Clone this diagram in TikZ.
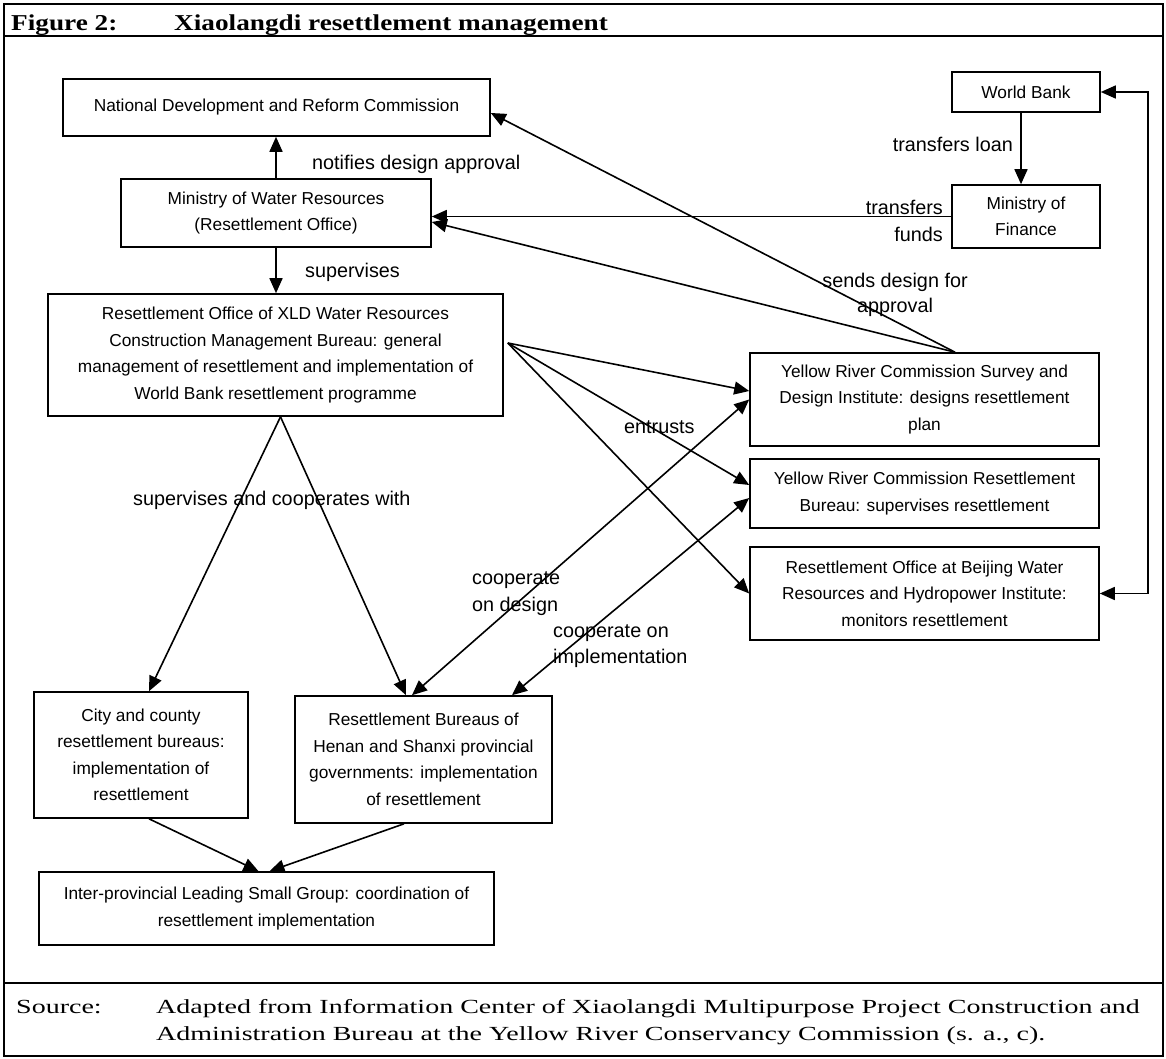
\documentclass[tikz,border=0pt]{standalone}
\usepackage{fontspec}
\setmainfont{Liberation Serif}
\newfontfamily\sansf{Liberation Sans}
\newfontfamily\hdrf[FakeStretch=1.2]{Liberation Serif}
\newfontfamily\srcf[FakeStretch=1.4]{Liberation Serif}
\usetikzlibrary{arrows.meta,calc}
\begin{document}
\begin{tikzpicture}[x=1pt,y=-1pt,
  box/.style={draw,line width=1.6pt,align=center,inner sep=0pt,font=\sansf\fontsize{17.3}{26.5}\selectfont},
  lbl/.style={inner sep=0pt,font=\sansf\fontsize{19.8}{26}\selectfont},
  hdr/.style={inner sep=0pt,anchor=base west,font=\hdrf\bfseries\fontsize{22.7}{24}\selectfont},
  src/.style={inner sep=0pt,anchor=base west,font=\srcf\fontsize{20}{27}\selectfont},
  tipa/.tip={Triangle[length=15pt,width=13pt]},
  arr/.style={line width=1.6pt,-tipa},
  darr/.style={line width=1.6pt,tipa-tipa}]
\fill[white] (0,0) rectangle (1166,1059);
\useasboundingbox (0,0) rectangle (1166,1059);
% frame
\draw[line width=2.2pt] (4,4) rectangle (1163,1056);
\draw[line width=2.4pt] (4,36) -- (1163,36);
\draw[line width=2.4pt] (4,983) -- (1163,983);
\node[hdr] (fig) at (11,31) {Figure 2:};
\node[hdr] (title) at (174,31) {Xiaolangdi resettlement management};
\node[src] (srcl) at (16,1013) {Source:};
\node[src] (srca) at (156,1013) {Adapted from Information Center of Xiaolangdi Multipurpose Project Construction and};
\node[src] (srcb) at (156,1040) {Administration Bureau at the Yellow River Conservancy Commission (s. a., c).};
% boxes
\node[box,minimum width=427pt,minimum height=57pt] (ndrc) at (276.5,107.5) {National Development and Reform Commission};
\node[box,minimum width=310pt,minimum height=68pt] (mwr) at (276,213) {Ministry of Water Resources\\(Resettlement Office)};
\node[box,minimum width=455pt,minimum height=122pt] (xld) at (275.5,355) {Resettlement Office of XLD Water Resources\\Construction Management Bureau: general\\management of resettlement and implementation of\\World Bank resettlement programme};
\node[box,minimum width=148pt,minimum height=40pt] (wb) at (1026,92) {World Bank};
\node[box,minimum width=148pt,minimum height=63pt] (mof) at (1026,216.5) {Ministry of\\Finance};
\node[box,minimum width=349pt,minimum height=93pt] (yrcs) at (924.5,399.5) {Yellow River Commission Survey and\\Design Institute: designs resettlement\\plan};
\node[box,minimum width=349pt,minimum height=69pt] (yrcrb) at (924.5,493.5) {Yellow River Commission Resettlement\\Bureau: supervises resettlement};
\node[box,minimum width=349pt,minimum height=93pt] (bj) at (924.5,593.5) {Resettlement Office at Beijing Water\\Resources and Hydropower Institute:\\monitors resettlement};
\node[box,minimum width=214pt,minimum height=126pt] (city) at (141,755) {City and county\\resettlement bureaus:\\implementation of\\resettlement};
\node[box,minimum width=257pt,minimum height=127pt] (henan) at (423.5,759.5) {Resettlement Bureaus of\\Henan and Shanxi provincial\\governments: implementation\\of resettlement};
\node[box,minimum width=455pt,minimum height=73pt] (inter) at (266.5,908.5) {Inter-provincial Leading Small Group: coordination of\\resettlement implementation};
% connectors
\coordinate (apex) at ([xshift=30.5pt]yrcs.north);
\draw[arr] (apex) -- ([yshift=-5.5pt]ndrc.east);
\draw[arr] (apex) -- ([yshift=-9pt]mwr.east);
\draw[arr] (mof.west) -- (mof.west -| mwr.east);
\draw[arr] ([xshift=-5pt]wb.south) -- ([xshift=-5pt]mof.north);
\draw[darr] (wb.east) -- ++(47,0) |- (bj.east);
\draw[arr] (mwr.north) -- (mwr.north |- ndrc.south);
\draw[arr] (mwr.south) -- (mwr.south |- xld.north);
\coordinate (xo) at ([xshift=4pt,yshift=12pt]xld.east);
\draw[arr] (xo) -- ([yshift=8.5pt]yrcs.west);
\draw[arr] (xo) -- ([yshift=8.5pt]yrcrb.west);
\draw[arr] (xo) -- (bj.west);
\coordinate (xb) at ([xshift=5pt]xld.south);
\draw[arr] (xb) -- ([xshift=8pt]city.north);
\draw[arr] (xb) -- ([xshift=-17.5pt]henan.north);
\draw[darr] ([xshift=-11.5pt]henan.north) -- (yrcs.west);
\draw[darr] ([xshift=88.5pt]henan.north) -- ([yshift=-4.5pt]yrcrb.west);
\draw[arr] ([xshift=8pt]city.south) -- ([xshift=-8pt]inter.north);
\draw[arr] ([xshift=-19.5pt]henan.south) -- ([xshift=3pt]inter.north);
% labels
\node[lbl,anchor=base west] (l1) at (312,170) {notifies design approval};
\node[lbl,anchor=base west] (l2) at (305,277) {supervises};
\node[lbl,anchor=base east] (l3) at (1013,152) {transfers loan};
\node[lbl,anchor=base east] (l4) at (943,215) {transfers};
\node[lbl,anchor=base east] (l5) at (943,242) {funds};
\node[lbl,anchor=base] (l6) at (895,287) {sends design for};
\node[lbl,anchor=base] (l7) at (895,312) {approval};
\node[lbl,anchor=base west] (l8) at (624,433) {entrusts};
\node[lbl,anchor=base west] (l9) at (133,505) {supervises and cooperates with};
\node[lbl,anchor=base west] (l10) at (472,584) {cooperate};
\node[lbl,anchor=base west] (l11) at (472,611) {on design};
\node[lbl,anchor=base west] (l12) at (553,637) {cooperate on};
\node[lbl,anchor=base west] (l13) at (553,663) {implementation};
\end{tikzpicture}
\end{document}
